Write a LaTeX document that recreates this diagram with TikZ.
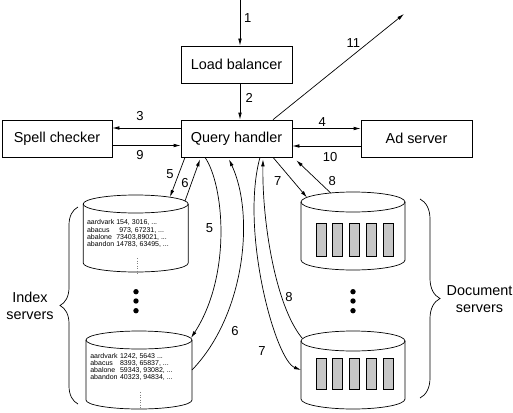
\documentclass[tikz,border=0pt]{standalone}
\usepackage{fontspec}
\setmainfont{Liberation Sans}
\usetikzlibrary{arrows.meta, decorations.pathreplacing}

\tikzset{
  box/.style={draw, minimum width=111pt, minimum height=37pt, inner sep=0pt, font=\fontsize{14.4}{17}\selectfont},
  flow/.style={-{Latex[length=7pt,width=3.6pt]}},
  num/.style={inner sep=0pt, font=\fontsize{13}{15}\selectfont},
  terms/.style={anchor=north west, inner sep=0pt, font=\fontsize{7}{7}\selectfont},
  group/.style={align=center, inner sep=0pt, font=\fontsize{14.4}{17}\selectfont},
  curly/.style={decorate, decoration={brace, amplitude=#1}},
  more/.style={gray, line width=0.9pt, dash pattern=on 0.9pt off 1.6pt},
}

% drum: centre x, top y, bottom y, x radius, y radius (y measured downwards)
\newcommand{\drum}[5]{%
  \draw (#1-#4,-#2) -- (#1-#4,-#3) arc[start angle=180, end angle=360, x radius=#4, y radius=#5] -- (#1+#4,-#2);
  \draw (#1,-#2) ellipse [x radius=#4, y radius=#5];
}

\begin{document}
\begin{tikzpicture}[x=1pt, y=1pt, line width=0.7pt]
  \useasboundingbox (0,0) rectangle (513,-412);

  % boxes
  \node[box] at (236.5,-64.5)  (lb)    {Load balancer};
  \node[box] at (236.5,-138.5) (qh)    {Query handler};
  \node[box, minimum width=110pt] at (57,-138.5) (spell) {Spell checker};
  \node[box] at (416.5,-138.5) (ad)    {Ad server};

  \coordinate (in)  at (240,0);
  \coordinate (web) at (404,-14);

  % index servers
  \drum{135.7}{204}{263}{52.5}{9}
  \drum{139}{340}{400}{53}{9}
  \node[terms] at (86.7,-219.5) (idxa) {\begin{tabular}{@{}l@{\hspace{2pt}}l@{}}
    aardvark & 154, 3016, ...\\
    abacus   & \hspace{3pt}973, 67231, ...\\
    abalone  & 73403,89021, ...\\
    abandon  & 14783, 63495, ...
  \end{tabular}};
  \node[terms] at (90,-353) (idxb) {\begin{tabular}{@{}l@{\hspace{2.5pt}}l@{}}
    aardvark & 1242, 5643 ...\\
    abacus   & 8393, 65837, ...\\
    abalone  & 59343, 93082, ...\\
    abandon  & 40323, 94834, ...
  \end{tabular}};
  \draw[more] (137,-258) -- (137,-274);
  \draw[more] (140,-392) -- (140,-408);

  % document servers
  \drum{353}{202}{260}{52}{10}
  \drum{353}{341}{399}{52}{10}
  \foreach \i in {0,...,4} {
    \filldraw[fill=gray!45] ({316+16.75*\i},-223) rectangle ++(10,-33);
    \filldraw[fill=gray!45] ({316+16.75*\i},-358) rectangle ++(10,-31);
  }

  \foreach \y in {291.7,301,310.7} {
    \fill (136,-\y) circle[radius=2.7];
    \fill (353,-\y) circle[radius=2.7];
  }

  % braces
  \draw[curly=18pt] (78,-404) -- (78,-207);
  \draw[curly=20pt] (420,-199) -- (420,-398);
  \node[group] at (30,-306)  (ixs) {Index\\servers};
  \node[group] at (479.5,-299) (dcs) {Document\\servers};

  % touch points on the drums
  \coordinate (it5) at (170,-197);
  \coordinate (it6) at (185,-201);
  \coordinate (ib5) at (191,-338);
  \coordinate (ib6) at (192,-370);
  \coordinate (dt7) at (307,-197.5);
  \coordinate (dt8) at (330.7,-193);
  \coordinate (db7) at (301,-370);
  \coordinate (db8) at (302,-338);

  % connectors
  \draw[flow] (in) -- ([xshift=3.5pt]lb.north);
  \draw[flow] ([xshift=3.5pt]lb.south) -- ([xshift=3.5pt]qh.north);
  \draw[flow] ([yshift=10.5pt]qh.west) -- ([yshift=10.5pt]spell.east);
  \draw[flow] ([yshift=-7pt]spell.east) -- ([yshift=-7pt]qh.west);
  \draw[flow] ([yshift=10pt]qh.east) -- ([yshift=10pt]ad.west);
  \draw[flow] ([yshift=-7.5pt]ad.west) -- ([yshift=-7.5pt]qh.east);
  \draw[flow] ([xshift=36.5pt]qh.north) -- (web);

  \draw[flow] ([xshift=-51.5pt]qh.south) -- (it5);
  \draw[flow] (it6) -- ([xshift=-36.5pt,yshift=-2pt]qh.south);
  \draw[flow] ([xshift=-31.5pt]qh.south) .. controls (224,-185) and (232,-275) .. (ib5);
  \draw[flow] (ib6) .. controls (245,-315) and (255,-215) .. ([xshift=-7.5pt,yshift=-2pt]qh.south);

  \draw[flow] ([xshift=36.5pt]qh.south) -- (dt7);
  \draw[flow] (dt8) -- ([xshift=4pt,yshift=-3pt]qh.south east);
  \draw[flow] ([xshift=23.5pt]qh.south) .. controls (240,-230) and (275,-360) .. (db7);
  \draw[flow] (db8) .. controls (275,-305) and (262,-220) .. ([xshift=26.5pt,yshift=-2pt]qh.south);

  % step numbers
  \node[num] at (247.7,-18.3)  (n1)  {1};
  \node[num] at (249.3,-98.3)  (n2)  {2};
  \node[num] at (140,-116)     (n3)  {3};
  \node[num] at (140,-155.5)   (n9)  {9};
  \node[num] at (322.3,-121.7) (n4)  {4};
  \node[num] at (330,-156.7)   (n10) {10};
  \node[num] at (353.3,-42.7)  (n11) {11};
  \node[num] at (170,-174)     (n5a) {5};
  \node[num] at (185,-183.5)   (n6a) {6};
  \node[num] at (209.5,-228)   (n5b) {5};
  \node[num] at (235,-331)     (n6b) {6};
  \node[num] at (277.7,-181)   (n7a) {7};
  \node[num] at (332.3,-181)   (n8a) {8};
  \node[num] at (289,-297)     (n8b) {8};
  \node[num] at (262,-351)     (n7b) {7};
\end{tikzpicture}
\end{document}
